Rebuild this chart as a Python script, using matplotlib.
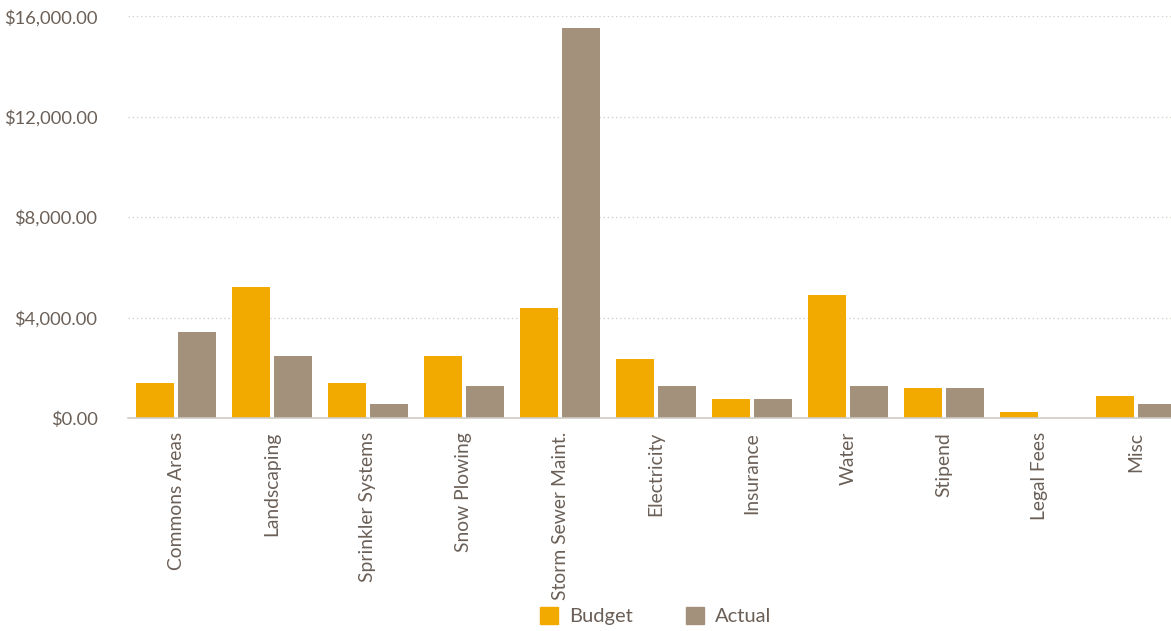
import matplotlib
matplotlib.use("Agg")
import matplotlib.pyplot as plt
import numpy as np
from matplotlib.ticker import FuncFormatter, FixedLocator
from matplotlib.patches import Patch

categories = ["Commons Areas", "Landscaping", "Sprinkler Systems", "Snow Plowing",
              "Storm Sewer Maint.", "Electricity", "Insurance", "Water", "Stipend",
              "Legal Fees", "Misc"]
budget = [1400, 5220, 1400, 2470, 4390, 2350, 760, 4900, 1200, 250, 880]
actual = [3430, 2470, 570, 1270, 15540, 1275, 760, 1275, 1200, 0, 570]
y_ticks = [0, 4000, 8000, 12000, 16000]

budget_color = "#F2A900"
actual_color = "#A4917C"
text_color = "#6B6058"

plt.rcParams['font.family'] = ['Lato', 'DejaVu Sans']

fig = plt.figure(figsize=(11.71, 6.31), dpi=100)
ax = fig.add_axes([128/1171, 1 - 418/631, (1184 - 128)/1171, (418 - 16.3)/631])

x = np.arange(len(categories))
w = 0.40
gap = 0.02
ax.bar(x - w/2 - gap, budget, width=w, color=budget_color, label="Budget", zorder=3)
ax.bar(x + w/2 + gap, actual, width=w, color=actual_color, label="Actual", zorder=3)

ax.set_xlim(-0.5, len(categories) - 0.5)
ax.set_ylim(0, 16000)
ax.yaxis.set_major_locator(FixedLocator(y_ticks))
ax.yaxis.set_major_formatter(FuncFormatter(lambda v, p: "${:,.2f}".format(v)))
ax.set_xticks(x)
ax.set_xticklabels(categories, rotation=90, ha="center", va="top")

ax.grid(axis="y", linestyle=(0, (1, 2)), color="#D6D1CA", linewidth=1, zorder=0)
ax.set_axisbelow(True)
for s in ["left", "right", "top"]:
    ax.spines[s].set_visible(False)
ax.spines["bottom"].set_color("#CFCBC6")
ax.spines["bottom"].set_linewidth(1.2)
ax.spines["bottom"].set_zorder(4)
ax.tick_params(axis="both", length=0, colors=text_color)
ax.tick_params(axis="y", pad=22, labelsize=13.2)
ax.tick_params(axis="x", pad=10, labelsize=13.9)

handles = [Patch(color=budget_color, label="Budget"), Patch(color=actual_color, label="Actual")]
leg = fig.legend(handles=handles, loc="lower center", bbox_to_anchor=(0.560, -0.020), ncol=2,
                 frameon=False, fontsize=14.5, handlelength=0.9, handleheight=0.9,
                 columnspacing=2.6, handletextpad=0.55)
for t in leg.get_texts():
    t.set_color(text_color)

fig.savefig("out.png", dpi=100)
